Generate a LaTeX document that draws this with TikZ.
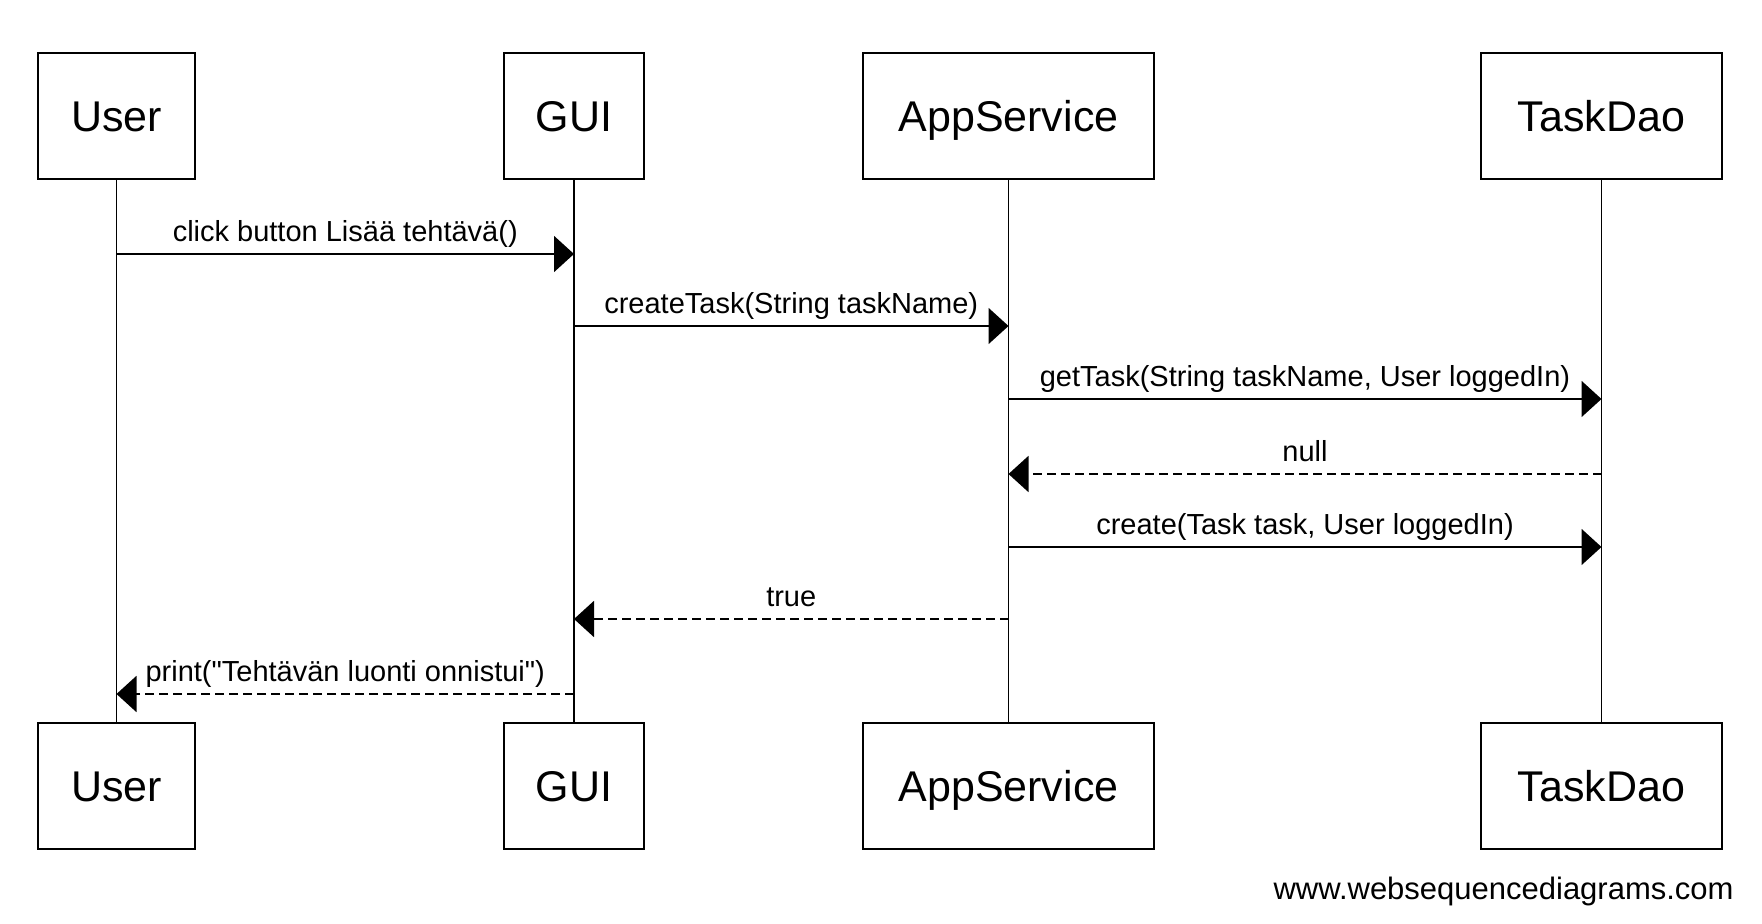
\documentclass[tikz,border=0pt]{standalone}
\usepackage{fontspec}
\setmainfont{Liberation Sans}
\usetikzlibrary{arrows.meta,positioning}

\begin{document}
\begin{tikzpicture}[
    x=0.5pt, y=-0.5pt,
    actor/.style={rectangle, draw, line width=1pt, minimum height=63pt, inner sep=0pt, text height=15.4pt, text depth=0pt, font=\fontsize{21.5}{26}\selectfont},
    lifeline/.style={line width=0.8pt},
    call/.style={-{Triangle[length=10pt, width=18pt]}, line width=0.9pt},
    reply/.style={call, dash pattern=on 4.5pt off 2.5pt},
    msg/.style={anchor=base, yshift=6pt, font=\fontsize{14.5}{17}\selectfont}
]
\useasboundingbox (0,0) rectangle (1762,924);

% Participants (top)
\node[actor, minimum width=78.5pt] (user) at (116.5,116) {User};
\node[actor, minimum width=70pt] (gui) at (574,116) {GUI};
\node[actor, minimum width=145.5pt] (app) at (1008.5,116) {AppService};
\node[actor, minimum width=120.5pt] (dao) at (1601.5,116) {TaskDao};

% Participants (bottom)
\node[actor, minimum width=78.5pt, below=271pt of user] (user_b) {User};
\node[actor, minimum width=70pt, below=271pt of gui] (gui_b) {GUI};
\node[actor, minimum width=145.5pt, below=271pt of app] (app_b) {AppService};
\node[actor, minimum width=120.5pt, below=271pt of dao] (dao_b) {TaskDao};

% Lifelines
\draw[lifeline] (user) -- (user_b);
\draw[lifeline] (gui) -- (gui_b);
\draw[lifeline] (app) -- (app_b);
\draw[lifeline] (dao) -- (dao_b);

% Message heights
\coordinate (m1) at (0,254);
\coordinate (m2) at (0,326);
\coordinate (m3) at (0,399);
\coordinate (m4) at (0,474);
\coordinate (m5) at (0,547);
\coordinate (m6) at (0,619);
\coordinate (m7) at (0,694);

% Calls
\draw[call] (user.south |- m1) -- node[msg] {click button Lisää tehtävä()} (gui.south |- m1);
\draw[call] (gui.south |- m2) -- node[msg] {createTask(String taskName)} (app.south |- m2);
\draw[call] (app.south |- m3) -- node[msg] {getTask(String taskName, User loggedIn)} (dao.south |- m3);
\draw[reply] (dao.south |- m4) -- node[msg] {null} (app.south |- m4);
\draw[call] (app.south |- m5) -- node[msg] {create(Task task, User loggedIn)} (dao.south |- m5);
\draw[reply] (app.south |- m6) -- node[msg] {true} (gui.south |- m6);
\draw[reply] (gui.south |- m7) -- node[msg] {print(\textquotedbl Tehtävän luonti onnistui\textquotedbl)} (user.south |- m7);

% Watermark
\node[anchor=base east, inner sep=0pt, font=\fontsize{15.5}{18}\selectfont] (wsd) at (1734,899) {www.websequencediagrams.com};

\end{tikzpicture}
\end{document}
